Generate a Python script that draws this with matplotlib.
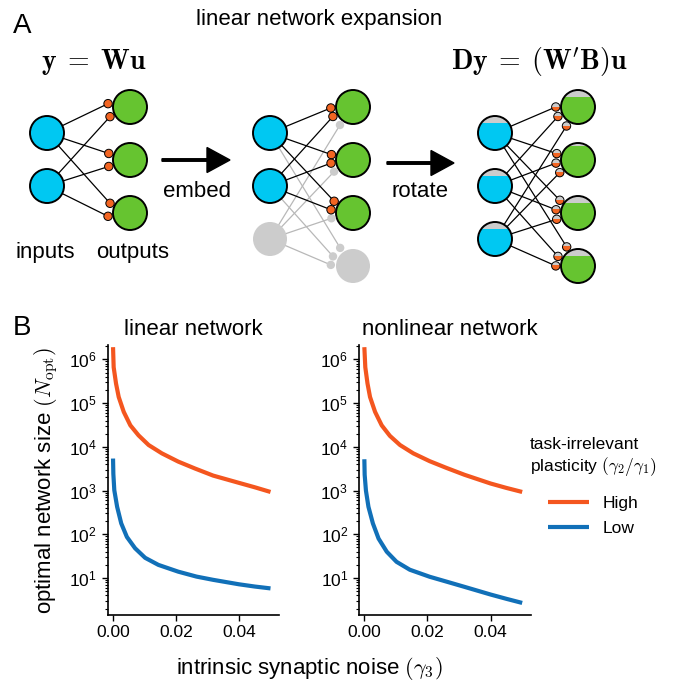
import numpy as np
import matplotlib
matplotlib.use('Agg')
import matplotlib.pyplot as plt
from matplotlib.patches import Circle, Rectangle, FancyArrow
from matplotlib.ticker import LogLocator, NullFormatter, FixedLocator, FormatStrFormatter

plt.rcParams['font.family'] = ['Liberation Sans', 'DejaVu Sans']
plt.rcParams['mathtext.fontset'] = 'cm'

# ---- data (x = gamma3, y = N_opt) ----
lin_high_x = [0.0, 0.0002, 0.00095, 0.0018, 0.0034, 0.0055, 0.0081, 0.0113, 0.0155, 0.0207, 0.026, 0.0318, 0.04, 0.045, 0.05]
lin_high_y = [1.9e6, 6.6e5, 2.8e5, 1.38e5, 6.3e4, 3.1e4, 1.83e4, 1.1e4, 7.1e3, 4.6e3, 3.2e3, 2.2e3, 1.5e3, 1.19e3, 930]
lin_low_x = [0.0, 0.0001, 0.0004, 0.0013, 0.0026, 0.0044, 0.007, 0.0102, 0.0144, 0.0207, 0.0265, 0.0318, 0.04, 0.045, 0.05]
lin_low_y = [5.4e3, 2.4e3, 1.02e3, 425, 178, 87, 48, 29, 20, 14, 10.8, 9.1, 7.2, 6.4, 5.8]

nonlin_high_x = [0.0, 0.0003, 0.001, 0.0018, 0.0034, 0.0055, 0.0081, 0.0113, 0.0155, 0.0207, 0.026, 0.0317, 0.04, 0.045, 0.05]
nonlin_high_y = [1.9e6, 6.6e5, 2.8e5, 1.38e5, 6.3e4, 3.1e4, 1.78e4, 1.1e4, 7.1e3, 4.7e3, 3.3e3, 2.3e3, 1.45e3, 1.15e3, 930]
nonlin_low_x = [0.0, 0.0001, 0.0005, 0.0013, 0.0027, 0.0045, 0.0071, 0.0102, 0.0144, 0.0207, 0.0265, 0.0317, 0.04, 0.045, 0.05]
nonlin_low_y = [5.2e3, 2.3e3, 1.0e3, 425, 178, 80, 40, 23.5, 15.5, 10.7, 8.1, 6.3, 4.2, 3.35, 2.7]

series_names = ['High', 'Low']
series_colors = ['#f4561f', '#1170b8']

# network schematics: (n inputs, n outputs)
net_sizes = [(2, 3), (3, 4), (3, 4)]

CYAN = '#00c8f2'
GREEN = '#66c430'
ORANGE = '#f26522'
GRAY = '#cccccc'

fig = plt.figure(figsize=(6.83, 6.86), dpi=100)

# ---------- panel A : drawn in pixel-like coordinates ----------
axd = fig.add_axes([0, 0, 1, 1])
axd.set_xlim(0, 683)
axd.set_ylim(686, 0)
axd.axis('off')

R_NODE = 17
R_DOT = 4.2


def node(ax, x, y, color, cap=0.0, edge=True):
    if not edge:
        ax.add_patch(Circle((x, y), R_NODE, fc=color, ec='none', zorder=3))
        return
    base = Circle((x, y), R_NODE, fc=GRAY if cap > 0 else color, ec='none', zorder=3)
    ax.add_patch(base)
    if cap > 0:
        top = y - R_NODE + cap * 2 * R_NODE
        r = Rectangle((x - R_NODE, top), 2 * R_NODE, 2 * R_NODE, fc=color, ec='none', zorder=3)
        ax.add_patch(r)
        r.set_clip_path(base)
    ax.add_patch(Circle((x, y), R_NODE, fc='none', ec='black', lw=1.4, zorder=3.5))


def dot(ax, x, y, color, cap=0.0, edge=True):
    base = Circle((x, y), R_DOT, fc=GRAY if cap > 0 else color, ec='none', zorder=4)
    ax.add_patch(base)
    if cap > 0:
        r = Rectangle((x - R_DOT, y - R_DOT + cap * 2 * R_DOT), 2 * R_DOT, 2 * R_DOT,
                      fc=color, ec='none', zorder=4)
        ax.add_patch(r)
        r.set_clip_path(base)
    if edge:
        ax.add_patch(Circle((x, y), R_DOT, fc='none', ec='black', lw=0.7, zorder=4.5))


def draw_net(ax, x0, n_in, n_out, gap, tilt, gray_in=(), gray_out=(),
             cap_in=None, cap_out=None, dot_cap=0.0):
    xin, xout = x0, x0 + 83
    yin = 133 + 53 * np.arange(n_in)
    yout = 107 + 53 * np.arange(n_out)
    Rd = R_NODE + R_DOT + 1
    for j, yo in enumerate(yout):
        c = tilt * (yin.mean() - yo)
        for i, yi in enumerate(yin):
            dy = c + gap * (i - (n_in - 1) / 2)
            dy = np.clip(dy, -Rd + 2, Rd - 2)
            dx = xout - np.sqrt(Rd ** 2 - dy ** 2)
            active = (i not in gray_in) and (j not in gray_out)
            ax.plot([xin, dx], [yi, yo + dy], color='black' if active else '#b8b8b8',
                    lw=0.9, zorder=2 if active else 1, solid_capstyle='round')
            if active:
                dot(ax, dx, yo + dy, ORANGE, cap=dot_cap)
            else:
                dot(ax, dx, yo + dy, GRAY, edge=False)
    for i, yi in enumerate(yin):
        if i in gray_in:
            node(ax, xin, yi, GRAY, edge=False)
        else:
            node(ax, xin, yi, CYAN, cap=0 if cap_in is None else cap_in[i])
    for j, yo in enumerate(yout):
        if j in gray_out:
            node(ax, xout, yo, GRAY, edge=False)
        else:
            node(ax, xout, yo, GREEN, cap=0 if cap_out is None else cap_out[j])


draw_net(axd, 47, *net_sizes[0], gap=13, tilt=0.06)
draw_net(axd, 270, *net_sizes[1], gap=8.5, tilt=0.12, gray_in=(2,), gray_out=(3,))
draw_net(axd, 495, *net_sizes[2], gap=9.5, tilt=0.12,
         cap_in=[0.2, 0.2, 0.2], cap_out=[0.2, 0.1, 0.22, 0.2], dot_cap=0.45)

axd.add_patch(FancyArrow(162, 160, 68, 0, width=2.5, head_width=25, head_length=23,
                         length_includes_head=True, color='black', zorder=5))
axd.add_patch(FancyArrow(387, 163, 67, 0, width=2.5, head_width=25, head_length=23,
                         length_includes_head=True, color='black', zorder=5))

axd.text(12.7, 33, 'A', fontsize=20, ha='left', va='baseline')
axd.text(12.7, 335, 'B', fontsize=20, ha='left', va='baseline')
axd.text(319, 25, 'linear network expansion', fontsize=16, ha='center', va='baseline')
axd.text(94, 62, r'$\mathbf{y}\;=\;\mathbf{Wu}$', fontsize=20, ha='center', va='center')
axd.text(539, 62, r"$\mathbf{Dy}\;=\;(\mathbf{W}'\mathbf{B})\mathbf{u}$", fontsize=20,
         ha='center', va='center')
axd.text(197, 197, 'embed', fontsize=16, ha='center', va='baseline')
axd.text(420, 197, 'rotate', fontsize=16, ha='center', va='baseline')
axd.text(45, 258, 'inputs', fontsize=16, ha='center', va='baseline')
axd.text(132.5, 258, 'outputs', fontsize=16, ha='center', va='baseline')

# ---------- panel B ----------
ax1 = fig.add_axes([108 / 683, 71 / 686, 171 / 683, 270 / 686])
ax2 = fig.add_axes([359.3 / 683, 71 / 686, 171.4 / 683, 270 / 686])

panels = [
    (ax1, 'linear network', [(lin_high_x, lin_high_y), (lin_low_x, lin_low_y)], 0.5),
    (ax2, 'nonlinear network', [(nonlin_high_x, nonlin_high_y), (nonlin_low_x, nonlin_low_y)], 0.53),
]
for ax, title, curves, tx in panels:
    for (xs, ys), col, name in zip(curves, series_colors, series_names):
        ax.plot(xs, ys, color=col, lw=3, label=name, solid_capstyle='butt',
                solid_joinstyle='round')
    ax.set_yscale('log')
    ax.set_xlim(-0.0016, 0.0527)
    ax.set_ylim(1.43, 2.13e6)
    ax.yaxis.set_major_locator(FixedLocator([1e1, 1e2, 1e3, 1e4, 1e5, 1e6]))
    ax.yaxis.set_minor_locator(LogLocator(base=10, subs=np.arange(2, 10), numticks=100))
    ax.yaxis.set_minor_formatter(NullFormatter())
    ax.set_xticks([0, 0.02, 0.04])
    ax.xaxis.set_major_formatter(FormatStrFormatter('%.2f'))
    for s in ['top', 'right']:
        ax.spines[s].set_visible(False)
    for s in ['left', 'bottom']:
        ax.spines[s].set_linewidth(1.2)
    ax.tick_params(which='major', direction='out', length=4.5, width=1.0, labelsize=12.5, pad=3)
    ax.tick_params(axis='y', which='major', length=4.5, pad=3.5)
    ax.tick_params(which='minor', direction='out', length=2.5, width=0.8)
    ax.set_title(title, fontsize=16, pad=7, x=tx)
    ax.patch.set_alpha(0)

fig.text(46 / 683, 1 - 481 / 686, r'optimal network size $(N_{\rm opt})$', rotation=90,
         ha='center', va='center', fontsize=16)
fig.text(309 / 683, 1 - 668 / 686, r'intrinsic synaptic noise $(\gamma_3)$',
         ha='center', va='center', fontsize=16)

leg = ax2.legend(title='task-irrelevant\nplasticity $(\\gamma_2/\\gamma_1)$', loc='upper left',
                 bbox_to_anchor=(530 / 683, 1 - 437 / 686), bbox_transform=fig.transFigure,
                 frameon=False, fontsize=12.5, title_fontsize=12.5, borderpad=0,
                 borderaxespad=0, handlelength=2.4, handletextpad=0.8, labelspacing=0.58)
leg._legend_box.sep = 12.5

fig.savefig('out.png', dpi=100)
